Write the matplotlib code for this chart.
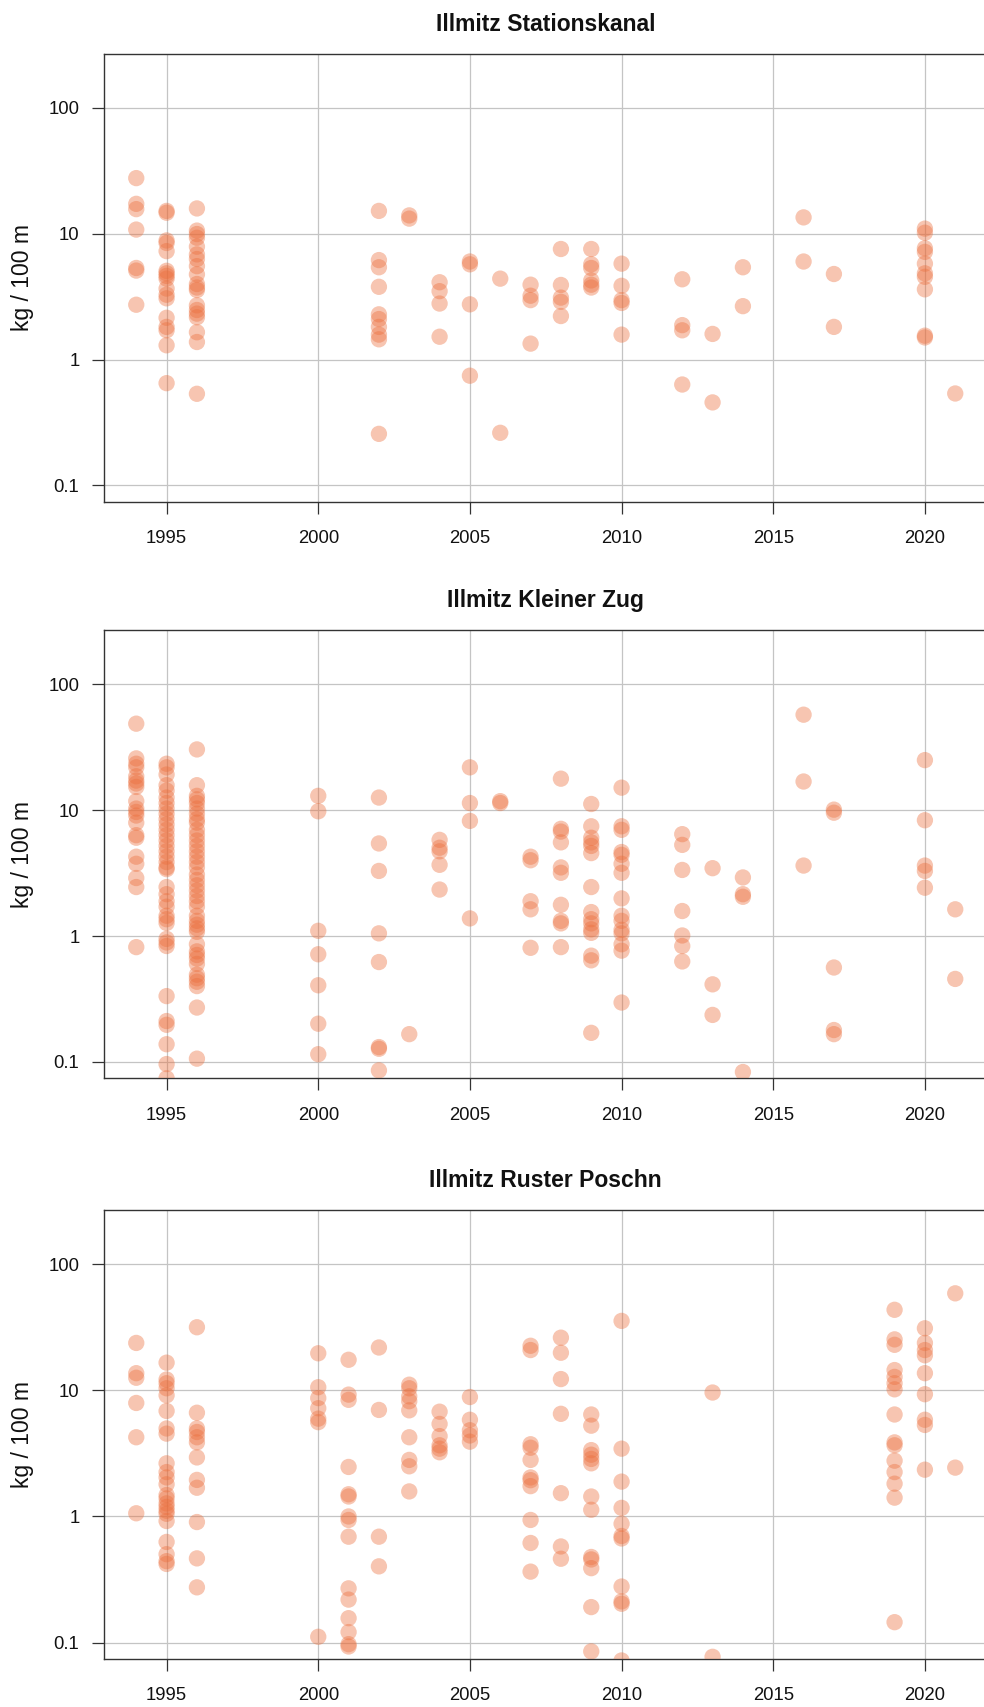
import matplotlib
matplotlib.use("Agg")
import matplotlib.pyplot as plt

plt.rcParams['font.family'] = ['Liberation Sans', 'DejaVu Sans']

# ---------------- data ----------------
titles = ["Illmitz Stationskanal", "Illmitz Kleiner Zug", "Illmitz Ruster Poschn"]
y_label = "kg / 100 m"
x_ticks = [1995, 2000, 2005, 2010, 2015, 2020]
y_ticks = [0.1, 1, 10, 100]
y_tick_labels = ["0.1", "1", "10", "100"]

stationskanal_years = [1994, 1995, 1996, 2002, 2003, 2004, 2005, 2006, 2007, 2008,
                       2009, 2010, 2012, 2013, 2014, 2016, 2017, 2020, 2021]
stationskanal_values = [
    [27.7, 17.3, 15.7, 10.8, 5.35, 5.1, 2.73],
    [15.2, 14.7, 8.85, 8.45, 7.28, 5.08, 4.85, 4.63, 4.4, 3.67, 3.28, 3.07, 2.15, 1.82, 1.71, 1.30, 0.65],
    [15.9, 10.6, 9.95, 9.3, 7.9, 6.86, 6.3, 5.53, 4.76, 3.99, 3.74, 3.57, 2.70, 2.48, 2.32, 2.17, 1.65, 1.38, 0.535],
    [15.2, 6.18, 5.42, 3.79, 2.29, 2.10, 1.82, 1.58, 1.45, 0.257],
    [14.0, 13.2],
    [4.12, 3.50, 2.79, 1.52],
    [6.02, 5.72, 2.75, 0.745],
    [4.40, 0.262],
    [3.94, 3.22, 2.97, 1.34],
    [7.57, 3.92, 3.11, 2.88, 2.22],
    [7.57, 5.72, 5.35, 4.26, 3.94, 3.74],
    [5.79, 3.86, 2.97, 2.82, 1.58],
    [4.35, 1.88, 1.71, 0.634],
    [1.60, 0.457],
    [5.42, 2.66],
    [13.5, 6.02],
    [4.79, 1.82],
    [10.99, 10.2, 7.67, 7.18, 5.79, 4.85, 4.55, 3.62, 1.55, 1.50],
    [0.538],
]

kleinerzug_years = [1994, 1995, 1996, 2000, 2002, 2003, 2004, 2005, 2006, 2007, 2008,
                    2009, 2010, 2012, 2013, 2014, 2016, 2017, 2020, 2021]
kleinerzug_values = [
    [48.7, 25.8, 23.4, 21.9, 18.6, 17.2, 16.3, 15.3, 11.8, 10.3, 9.68, 9.07, 7.96, 6.33, 6.04,
     4.27, 3.75, 2.89, 2.45, 0.816],
    [23.4, 21.9, 19.2, 15.8, 14.3, 12.6, 11.4, 10.3, 9.37, 8.49, 7.70, 6.98, 6.33, 5.74, 5.20,
     4.71, 4.27, 3.87, 3.51, 3.40, 2.45, 2.15, 1.89, 1.71, 1.45, 1.36, 1.27, 0.949, 0.889, 0.833,
     0.333, 0.211, 0.197, 0.138, 0.096, 0.074],
    [30.4, 15.8, 13.0, 12.2, 11.4, 10.3, 9.37, 8.49, 7.96, 6.98, 6.33, 5.74, 5.20, 4.71, 4.27,
     3.87, 3.51, 3.08, 2.79, 2.53, 2.30, 2.08, 1.89, 1.71, 1.45, 1.32, 1.23, 1.15, 1.08, 0.86,
     0.755, 0.707, 0.662, 0.600, 0.493, 0.462, 0.433, 0.400, 0.270, 0.106],
    [13.0, 9.80, 1.10, 0.716, 0.406, 0.201, 0.115],
    [12.6, 5.44, 3.29, 1.05, 0.621, 0.131, 0.127, 0.0855],
    [0.166],
    [5.81, 5.03, 4.71, 3.68, 2.34],
    [21.9, 11.4, 8.22, 1.38],
    [11.8, 11.4],
    [4.27, 4.00, 1.89, 1.63, 0.806],
    [17.8, 7.11, 6.76, 5.55, 3.51, 3.18, 1.77, 1.32, 1.26, 0.816],
    [11.2, 7.45, 6.04, 5.55, 5.20, 4.56, 2.45, 1.55, 1.36, 1.26, 1.13, 1.06, 0.698, 0.641, 0.170],
    [15.1, 7.45, 6.98, 4.65, 4.42, 3.75, 3.18, 1.99, 1.45, 1.32, 1.12, 1.05, 0.86, 0.765, 0.296],
    [6.45, 5.30, 3.35, 1.58, 1.01, 0.833, 0.628],
    [3.46, 0.413, 0.236],
    [2.92, 2.15, 2.05, 0.083],
    [57.4, 16.9, 3.63],
    [10.1, 9.55, 0.562, 0.179, 0.166],
    [25.0, 8.32, 3.63, 3.29, 2.42],
    [1.63, 0.456],
]

rusterposchn_years = [1994, 1995, 1996, 2000, 2001, 2002, 2003, 2004, 2005, 2007, 2008,
                      2009, 2010, 2013, 2019, 2020, 2021]
rusterposchn_values = [
    [23.8, 13.7, 12.6, 7.95, 4.25, 1.06],
    [16.6, 12.2, 11.4, 10.4, 9.15, 6.87, 4.99, 4.54, 2.64, 2.25, 2.04, 1.80, 1.48, 1.39, 1.27,
     1.19, 1.11, 1.05, 0.92, 0.628, 0.502, 0.442, 0.420],
    [31.7, 6.65, 4.99, 4.68, 4.25, 3.87, 2.94, 1.95, 1.69, 0.903, 0.465, 0.274],
    [19.7, 10.6, 8.69, 7.22, 5.97, 5.60, 0.111],
    [17.5, 9.26, 8.42, 2.47, 1.50, 1.44, 1.0, 0.938, 0.691, 0.269, 0.219, 0.156, 0.121, 0.097, 0.093],
    [21.9, 7.00, 0.691, 0.402],
    [11.1, 10.4, 8.97, 8.21, 6.95, 4.25, 2.81, 2.50, 1.58],
    [6.78, 5.42, 4.34, 3.67, 3.45, 3.23],
    [8.86, 5.85, 4.83, 4.39, 3.92],
    [22.6, 20.9, 3.74, 3.51, 2.81, 2.04, 1.94, 1.74, 0.938, 0.616, 0.365],
    [26.2, 19.9, 12.3, 6.52, 1.53, 0.578, 0.462],
    [6.44, 5.25, 3.36, 3.09, 2.86, 2.64, 1.44, 1.13, 0.477, 0.456, 0.389, 0.191, 0.085],
    [35.6, 3.45, 1.89, 1.17, 0.875, 0.700, 0.669, 0.278, 0.212, 0.203, 0.072],
    [9.62, 0.077],
    [43.6, 25.4, 23.0, 14.5, 12.8, 11.4, 10.2, 6.44, 3.87, 3.67, 2.77, 2.25, 1.82, 1.41, 0.145],
    [31.1, 23.8, 20.9, 19.0, 13.7, 9.33, 5.85, 5.32, 2.35],
    [58.9, 2.44],
]

panels = [
    (stationskanal_years, stationskanal_values),
    (kleinerzug_years, kleinerzug_values),
    (rusterposchn_years, rusterposchn_values),
]

# ---------------- layout ----------------
W, H = 984, 1707
fig = plt.figure(figsize=(W / 100, H / 100), dpi=100)

left_px, right_px = 103.5, 988.0
boxes_px = [(53.6, 501.8), (630.0, 1078.2), (1209.9, 1658.9)]

point_color = "#EB6E3C"
grid_color = "#C4C4C4"
axis_color = "#333333"

for (years, vals), title, (top, bot) in zip(panels, titles, boxes_px):
    ax = fig.add_axes([left_px / W, 1 - bot / H, (right_px - left_px) / W, (bot - top) / H])
    xs, ys = [], []
    for yr, vlist in zip(years, vals):
        for v in vlist:
            xs.append(yr)
            ys.append(v)
    ax.set_yscale('log')
    ax.set_xlim(1992.92, 2022.08)
    ax.set_ylim(10 ** -1.13, 10 ** 2.432)
    for xt in x_ticks:
        ax.axvline(xt, color=grid_color, lw=0.9, zorder=1)
    for yt in y_ticks:
        ax.axhline(yt, color=grid_color, lw=0.9, zorder=1)
    ax.scatter(xs, ys, s=138, color=point_color, alpha=0.4, edgecolors='none', zorder=3)

    ax.set_xticks(x_ticks)
    ax.set_xticklabels([str(t) for t in x_ticks])
    ax.set_yticks(y_ticks)
    ax.set_yticklabels(y_tick_labels)
    ax.minorticks_off()
    ax.tick_params(axis='both', direction='out', length=8.5, width=0.9,
                   color=axis_color, labelsize=13.3, labelcolor='#111111')
    ax.tick_params(axis='x', pad=12.0)
    ax.tick_params(axis='y', pad=8.8)
    for sp in ax.spines.values():
        sp.set_color(axis_color)
        sp.set_linewidth(1.0)
    ax.set_title(title, fontsize=16.5, fontweight='bold', pad=16.3, color='#111111')
    fig.text(23 / W, 1 - ((top + bot) / 2) / H, y_label, rotation=90,
             ha='center', va='center', fontsize=16.6, color='#111111')

fig.savefig("out.png", dpi=100)
